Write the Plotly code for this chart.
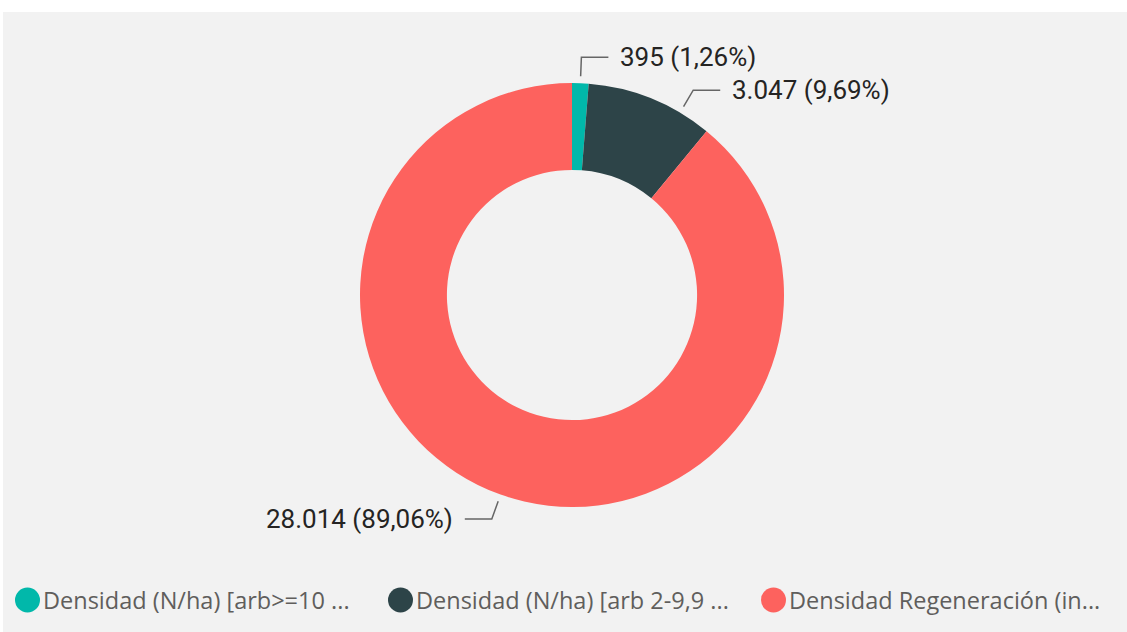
import math
import plotly.graph_objects as go

# --- data -------------------------------------------------------------
categories = [
    "Densidad (N/ha) [arb>=10 ...",
    "Densidad (N/ha) [arb 2-9,9 ...",
    "Densidad Regeneración (in...",
]
values = [395, 3047, 28014]
colors = ["#01B8AA", "#2D4448", "#FD625E"]

# --- canvas / geometry --------------------------------------------------
W, H = 1127, 632
CX, CY, R = 572, 295, 212          # donut centre and outer radius (px)
HOLE = 0.59
START_OFF, ELBOW_OFF = 7, 26       # leader line: start and elbow beyond the ring
ARM, GAP, MIN_SEP = 27, 10, 33     # horizontal arm, text gap, label spacing

LABEL_FONT = dict(family="Roboto", size=26, color="#252423")
LEGEND_FONT = dict(family="Open Sans", size=23.5, color="#605E5C")


def fmt_es(v, dec=0):
    s = f"{v:,.{dec}f}"
    return s.replace(",", "X").replace(".", ",").replace("X", ".")


total = sum(values)
shares = [v / total for v in values]

fig = go.Figure()

fig.add_trace(go.Pie(
    labels=categories,
    values=values,
    marker=dict(colors=colors, line=dict(width=0)),
    hole=HOLE,
    sort=False,
    direction="clockwise",
    rotation=0,
    textinfo="none",
    hoverinfo="label+value+percent",
    showlegend=False,
    domain=dict(x=[(CX - R) / W, (CX + R) / W],
                y=[(H - CY - R) / H, (H - CY + R) / H]),
))

# --- outside labels with leader lines ----------------------------------
r_start, r_elbow = R + START_OFF, R + ELBOW_OFF
cum = 0.0
prev_right = None
annotations = []
for name, v, s in zip(categories, values, shares):
    theta = (cum + s / 2) * 2 * math.pi
    cum += s
    right = math.sin(theta) >= 0
    ey = CY - r_elbow * math.cos(theta)
    if right:
        if prev_right is not None and ey < prev_right + MIN_SEP:
            ey = prev_right + MIN_SEP
            theta = math.acos((CY - ey) / r_elbow)
        prev_right = ey
    sx = CX + r_start * math.sin(theta)
    sy = CY - r_start * math.cos(theta)
    ex = CX + r_elbow * math.sin(theta)
    ey = CY - r_elbow * math.cos(theta)
    hx = ex + (ARM if right else -ARM)
    fig.add_trace(go.Scatter(
        x=[sx, ex, hx], y=[sy, ey, ey], mode="lines",
        line=dict(color="#666666", width=1.5),
        hoverinfo="skip", showlegend=False,
    ))
    annotations.append(dict(
        x=hx + (GAP if right else -GAP), y=ey, xref="x", yref="y",
        text=f"{fmt_es(v)} ({fmt_es(s * 100, 2)}%)",
        showarrow=False, xanchor="left" if right else "right",
        yanchor="middle", font=LABEL_FONT,
    ))

# --- legend (circle markers + names) -----------------------------------
LEG_X0, LEG_Y, LEG_STEP, LEG_R = 27.5, 600, 373, 12.5
shapes = [dict(type="rect", xref="x", yref="y", x0=3, x1=W, y0=12, y1=H,
               fillcolor="#F2F2F2", line=dict(width=0), layer="below")]
for i, (name, c) in enumerate(zip(categories, colors)):
    cx = LEG_X0 + i * LEG_STEP
    shapes.append(dict(type="circle", xref="x", yref="y",
                       x0=cx - LEG_R, x1=cx + LEG_R,
                       y0=LEG_Y - LEG_R, y1=LEG_Y + LEG_R,
                       fillcolor=c, line=dict(width=0)))
    annotations.append(dict(x=cx + LEG_R + 1, y=LEG_Y, xref="x", yref="y",
                            text=name, showarrow=False, xanchor="left",
                            yanchor="middle", font=LEGEND_FONT))

fig.update_layout(
    width=W, height=H,
    margin=dict(l=0, r=0, t=0, b=0),
    paper_bgcolor="white", plot_bgcolor="white",
    xaxis=dict(range=[0, W], visible=False, fixedrange=True),
    yaxis=dict(range=[H, 0], visible=False, fixedrange=True),
    shapes=shapes, annotations=annotations,
    showlegend=False,
)

fig.write_html("out.html")
